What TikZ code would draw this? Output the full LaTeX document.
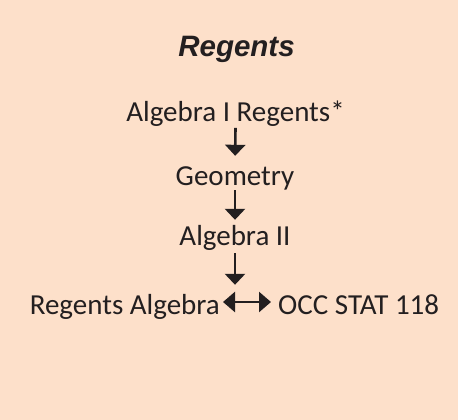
\documentclass[tikz,border=0pt]{standalone}
\usepackage{fontspec}
\setmainfont{Carlito}
\newfontfamily\titlefont{Liberation Sans}
\usetikzlibrary{arrows.meta}
\definecolor{bgpeach}{HTML}{FDE0CA}
\definecolor{ink}{HTML}{231F20}
\begin{document}
\begin{tikzpicture}[x=1pt,y=-1pt,
  lbl/.style={anchor=base, inner sep=0pt, text height=18pt, text depth=6pt, text=ink, font=\fontsize{29}{35}\selectfont},
  ttl/.style={anchor=base, inner sep=0pt, text=ink, font=\titlefont\bfseries\itshape\fontsize{29.5}{35}\selectfont},
  down/.style={draw=ink, line width=2.6pt, -{Triangle[width=20pt,length=11pt]}},
  both/.style={draw=ink, line width=2.6pt, {Triangle[width=20pt,length=12pt]}-{Triangle[width=20pt,length=12pt]}}
]
\fill[bgpeach] (0,0) rectangle (458,420);
\useasboundingbox (0,0) rectangle (458,420);
\node[ttl] (title) at (236.5,57) {Regents};
\node[lbl] (alg1) at (235.5,121.7) {Algebra I Regents*};
\node[lbl] (geo) at (235,185) {Geometry};
\node[lbl] (alg2) at (235,245) {Algebra II};
\node[lbl, anchor=base east] (ra) at (220,314) {Regents Algebra};
\node[lbl, anchor=base west] (occ) at (278,314) {OCC STAT 118};
\draw[down, shorten >=11pt] (alg1.south) -- (geo.north);
\draw[down, shorten >=7pt] ([yshift=1pt]geo.south) -- (alg2.north);
\draw[down, shorten <=2pt, shorten >=11pt] (alg2.south) -- (alg2.south |- ra.north);
\draw[both, shorten <=3pt, shorten >=7pt] ([yshift=6pt]ra.east) -- ([yshift=6pt]occ.west);
\end{tikzpicture}
\end{document}
